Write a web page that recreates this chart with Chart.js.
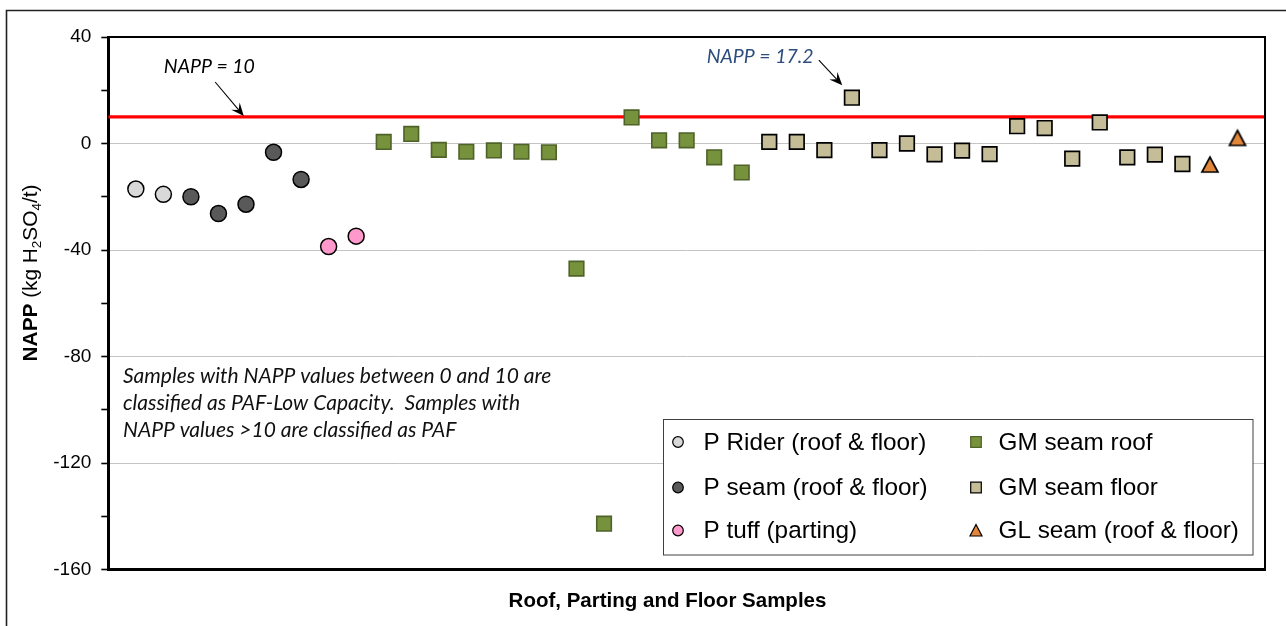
<!DOCTYPE html>
<html>
<head>
<meta charset="utf-8">
<title>NAPP – Roof, Parting and Floor Samples</title>
<script src="https://cdn.jsdelivr.net/npm/chart.js@4/dist/chart.umd.min.js"></script>
<style>
  html, body { margin: 0; padding: 0; background: #fff; }
  #wrap { width: 1286px; height: 626px; position: relative; }
</style>
</head>
<body>
<div id="wrap"><canvas id="napp" width="1286" height="626"></canvas></div>
<script>
// ---- Data: sample number along x, NAPP (kg H2SO4/t) along y ----
const pRiderX = [1, 2];
const pRiderY = [-17.1, -19.1];

const pSeamX = [3, 4, 5, 6, 7];
const pSeamY = [-20.0, -26.3, -22.8, -3.3, -13.5];

const pTuffX = [8, 9];
const pTuffY = [-38.7, -34.8];

const gmRoofX = [10, 11, 12, 13, 14, 15, 16, 17, 18, 19, 20, 21, 22, 23];
const gmRoofY = [0.6, 3.6, -2.4, -3.1, -2.6, -3.1, -3.3, -47.0, -142.8, 9.8, 1.2, 1.2, -5.2, -10.9];

const gmFloorX = [24, 25, 26, 27, 28, 29, 30, 31, 32, 33, 34, 35, 36, 37, 38, 39];
const gmFloorY = [0.6, 0.6, -2.5, 17.2, -2.5, 0.0, -4.1, -2.7, -4.0, 6.5, 5.8, -5.7, 7.9, -5.2, -4.2, -7.7];

const glSeamX = [40, 41];
const glSeamY = [-7.9, 2.1];

const seriesNames = [
  'P Rider (roof & floor)', 'P seam (roof & floor)', 'P tuff (parting)',
  'GM seam roof', 'GM seam floor', 'GL seam (roof & floor)'
];

const yTickLabels = [40, 0, -40, -80, -120, -160];
const yMin = -160, yMax = 40, yStep = 20;
const xMin = 0, xMax = 42;

const pafLimit = 10;          // NAPP threshold line
const peakValue = 17.2;       // highest GM seam floor result

const noteLines = [
  'Samples with NAPP values between 0 and 10 are',
  'classified as PAF-Low Capacity.  Samples with',
  'NAPP values >10 are classified as PAF'
];
const xTitle = 'Roof, Parting and Floor Samples';

// ---- helpers ----
const toPts = (xs, ys) => xs.map((x, i) => ({ x: x, y: ys[i] }));

// triangle marker centred on its bounding box
function triangleMarker(w, h, fill, lw) {
  const c = document.createElement('canvas');
  c.width = Math.ceil(w + lw * 2 + 4);
  c.height = Math.ceil(h + lw * 2 + 4);
  const g = c.getContext('2d');
  const cx = c.width / 2, cy = c.height / 2;
  g.beginPath();
  g.moveTo(cx, cy - h / 2);
  g.lineTo(cx + w / 2, cy + h / 2);
  g.lineTo(cx - w / 2, cy + h / 2);
  g.closePath();
  g.fillStyle = fill;
  g.fill();
  g.lineWidth = lw;
  g.lineJoin = 'miter';
  g.strokeStyle = '#000';
  g.stroke();
  return c;
}

const ORANGE = '#E2863C';
const triBig = triangleMarker(16, 15, ORANGE, 1.7);

// ---- drawing plugin: frames, notes, arrows, axis titles, legend ----
function stealthArrow(ctx, x1, y1, x2, y2) {
  const ang = Math.atan2(y2 - y1, x2 - x1);
  const len = 13, half = 5.5, notch = 8;
  ctx.beginPath();
  ctx.moveTo(x1, y1);
  ctx.lineTo(x2 - Math.cos(ang) * notch, y2 - Math.sin(ang) * notch);
  ctx.lineWidth = 1.1;
  ctx.strokeStyle = '#000';
  ctx.stroke();
  const bx = x2 - Math.cos(ang) * len, by = y2 - Math.sin(ang) * len;
  const nx = -Math.sin(ang), ny = Math.cos(ang);
  ctx.beginPath();
  ctx.moveTo(x2, y2);
  ctx.lineTo(bx + nx * half, by + ny * half);
  ctx.lineTo(x2 - Math.cos(ang) * notch, y2 - Math.sin(ang) * notch);
  ctx.lineTo(bx - nx * half, by - ny * half);
  ctx.closePath();
  ctx.fillStyle = '#000';
  ctx.fill();
}

const decorations = {
  id: 'decorations',
  beforeDraw(chart) {
    const ctx = chart.ctx;
    ctx.save();
    ctx.fillStyle = '#fff';
    ctx.fillRect(0, 0, chart.width, chart.height);
    ctx.restore();
  },
  afterDatasetsDraw(chart) {
    const { ctx, chartArea: ca, scales } = chart;
    const xs = scales.x, ys = scales.y;
    ctx.save();

    // plot frame (top and right edges)
    ctx.strokeStyle = '#000';
    ctx.lineWidth = 2;
    ctx.beginPath();
    ctx.moveTo(ca.left, ca.top);
    ctx.lineTo(ca.right, ca.top);
    ctx.lineTo(ca.right, ca.bottom);
    ctx.stroke();

    // outer chart border
    ctx.strokeStyle = '#222';
    ctx.lineWidth = 1.6;
    ctx.beginPath();
    ctx.moveTo(6.5, chart.height + 2);
    ctx.lineTo(6.5, 10.5);
    ctx.lineTo(chart.width + 2, 10.5);
    ctx.stroke();

    // threshold and peak call-outs
    ctx.font = 'italic 19.5px Lato';
    ctx.textAlign = 'center';
    ctx.textBaseline = 'middle';
    ctx.fillStyle = '#000';
    ctx.fillText('NAPP = ' + pafLimit, xs.getPixelForValue(3.67), ys.getPixelForValue(28.8));
    stealthArrow(ctx, xs.getPixelForValue(3.88), ys.getPixelForValue(23.1),
                      xs.getPixelForValue(4.92), ys.getPixelForValue(10.3));

    ctx.fillStyle = '#2C4D7D';
    ctx.fillText('NAPP = ' + peakValue, xs.getPixelForValue(23.67), ys.getPixelForValue(32.6));
    stealthArrow(ctx, xs.getPixelForValue(25.8), ys.getPixelForValue(31.3),
                      xs.getPixelForValue(26.65), ys.getPixelForValue(21.9));

    // classification note
    ctx.font = 'italic 21px Lato';
    ctx.fillStyle = '#111';
    ctx.textAlign = 'left';
    noteLines.forEach((t, i) => ctx.fillText(t, 123, 376 + i * 27));

    // x-axis title
    ctx.font = 'bold 20.5px "Liberation Sans", Arial, sans-serif';
    ctx.fillStyle = '#000';
    ctx.textAlign = 'center';
    ctx.fillText(xTitle, 667.5, 601);

    // y-axis title with subscripts
    const parts = [
      { t: 'NAPP', f: 'bold 20.8px "Liberation Sans", Arial' },
      { t: ' (kg H', f: '20.8px "Liberation Sans", Arial' },
      { t: '2', f: '13.5px "Liberation Sans", Arial', sub: true },
      { t: 'SO', f: '20.8px "Liberation Sans", Arial' },
      { t: '4', f: '13.5px "Liberation Sans", Arial', sub: true },
      { t: '/t)', f: '20.8px "Liberation Sans", Arial' }
    ];
    let total = 0;
    parts.forEach(p => { ctx.font = p.f; p.w = ctx.measureText(p.t).width; total += p.w; });
    ctx.translate(31, 273);
    ctx.rotate(-Math.PI / 2);
    ctx.textAlign = 'left';
    ctx.textBaseline = 'middle';
    let px = -total / 2;
    parts.forEach(p => {
      ctx.font = p.f;
      ctx.fillText(p.t, px, p.sub ? 6 : 0);
      px += p.w;
    });
    ctx.restore();

    // legend box
    ctx.save();
    const box = { x: 663.5, y: 419.5, w: 589.5, h: 135.5 };
    ctx.fillStyle = '#fff';
    ctx.fillRect(box.x, box.y, box.w, box.h);
    ctx.strokeStyle = '#404040';
    ctx.lineWidth = 1;
    ctx.strokeRect(box.x, box.y, box.w, box.h);
    const rowsY = [442, 487.5, 530.5];
    const cols = [{ m: 678, t: 703.5 }, { m: 976, t: 998.5 }];
    ctx.font = '24.3px "Liberation Sans", Arial, sans-serif';
    ctx.textBaseline = 'middle';
    ctx.textAlign = 'left';
    chart.data.datasets.forEach((ds, i) => {
      if (!ds.inLegend) return;
      const col = cols[Math.floor(ds.legendSlot / 3)];
      const y = rowsY[ds.legendSlot % 3];
      const mx = col.m;
      ctx.fillStyle = ds.backgroundColor;
      ctx.strokeStyle = ds.borderColor;
      ctx.lineWidth = 1.2;
      ctx.beginPath();
      if (ds.pointStyle === 'circle') {
        ctx.arc(mx, y, 5.3, 0, Math.PI * 2);
      } else if (ds.pointStyle === 'rect') {
        ctx.rect(mx - 5.3, y - 5.3, 10.6, 10.6);
      } else {
        ctx.moveTo(mx, y - 6);
        ctx.lineTo(mx + 6, y + 5.5);
        ctx.lineTo(mx - 6, y + 5.5);
        ctx.closePath();
      }
      ctx.fill();
      ctx.stroke();
      ctx.fillStyle = '#000';
      ctx.fillText(ds.label, col.t, y + 1);
    });
    ctx.restore();
  }
};

function markerSet(label, slot, xs, ys, style, fill, border, radius, bw) {
  return {
    label: label,
    inLegend: true,
    legendSlot: slot,
    data: toPts(xs, ys),
    pointStyle: style,
    backgroundColor: fill,
    borderColor: border,
    pointBackgroundColor: fill,
    pointBorderColor: border,
    pointRadius: radius,
    pointBorderWidth: bw,
    showLine: false
  };
}

const datasets = [
  markerSet(seriesNames[0], 0, pRiderX, pRiderY, 'circle', '#D9D9D9', '#000', 8, 1.5),
  markerSet(seriesNames[1], 1, pSeamX, pSeamY, 'circle', '#595959', '#000', 8, 1.5),
  markerSet(seriesNames[2], 2, pTuffX, pTuffY, 'circle', '#FF99CC', '#000', 8, 1.5),
  markerSet(seriesNames[3], 3, gmRoofX, gmRoofY, 'rect', '#76923C', '#4F6228', 10.3, 1.6),
  markerSet(seriesNames[4], 4, gmFloorX, gmFloorY, 'rect', '#C4BD97', '#000', 10.3, 1.7),
  Object.assign(markerSet(seriesNames[5], 5, glSeamX, glSeamY, 'triangle', ORANGE, '#000', 9, 1.5),
    { pointStyle: triBig, legendShape: 'triangle' }),
  {
    label: 'NAPP = ' + pafLimit,
    inLegend: false,
    data: [{ x: xMin, y: pafLimit }, { x: xMax, y: pafLimit }],
    showLine: true,
    borderColor: '#FF0000',
    borderWidth: 3.2,
    pointRadius: 0,
    fill: false
  }
];

new Chart(document.getElementById('napp'), {
  type: 'scatter',
  data: { datasets: datasets },
  options: {
    responsive: false,
    devicePixelRatio: 1,
    animation: false,
    events: [],
    layout: { padding: { left: 0, top: 37, right: 21, bottom: 0 } },
    plugins: {
      legend: { display: false },
      tooltip: { enabled: false },
      title: { display: false }
    },
    scales: {
      x: {
        type: 'linear',
        min: xMin,
        max: xMax,
        ticks: { display: false },
        grid: { display: false },
        border: { display: true, color: '#000', width: 3 },
        afterFit: s => { s.height = 56.5; }
      },
      y: {
        type: 'linear',
        min: yMin,
        max: yMax,
        ticks: {
          stepSize: yStep,
          padding: 10,
          color: '#000',
          font: { family: '"Liberation Sans", Arial, sans-serif', size: 19 },
          callback: v => (yTickLabels.includes(v) ? String(v) : '')
        },
        grid: {
          color: c => (c.tick && yTickLabels.includes(c.tick.value) ? '#C4C4C4' : 'rgba(0,0,0,0)'),
          tickColor: '#000',
          tickLength: 7,
          lineWidth: 1,
          tickWidth: 1.6
        },
        border: { display: true, color: '#000', width: 3 },
        afterFit: s => { s.width = 108.3; }
      }
    }
  },
  plugins: [decorations]
});
</script>
</body>
</html>
